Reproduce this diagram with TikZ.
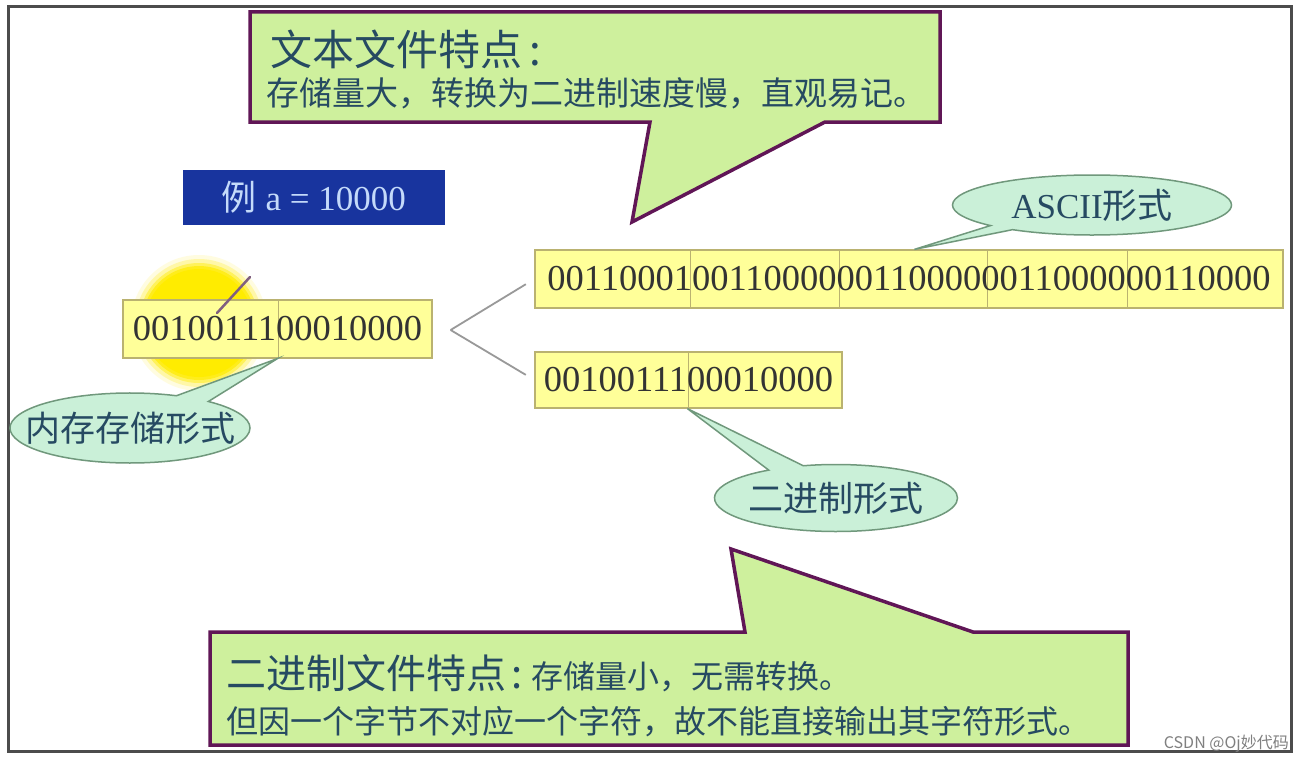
\documentclass[tikz,border=0pt]{standalone}
\usepackage{fontspec}
\setmainfont{Liberation Serif}
\newfontfamily\cjk{Noto Sans CJK SC}
\usetikzlibrary{calc,shapes.callouts}
\definecolor{note_green}{RGB}{206,240,157}
\definecolor{note_border}{RGB}{96,22,86}
\definecolor{tag_mint}{RGB}{202,240,216}
\definecolor{tag_border}{RGB}{112,152,124}
\definecolor{byte_yellow}{RGB}{255,255,153}
\definecolor{byte_border}{RGB}{186,178,112}
\definecolor{glow_yellow}{RGB}{255,236,0}
\definecolor{ink_teal}{RGB}{38,74,98}
\definecolor{ex_blue}{RGB}{24,52,158}
\definecolor{ex_text}{RGB}{196,218,250}
\newcommand{\fsz}[1]{\fontsize{#1}{#1}\selectfont}
\newcommand{\tagtext}[1]{\makebox[0pt]{#1}}% ellipse size from minimum width/height only

\begin{document}
\begin{tikzpicture}[x=1pt, y=-1pt,
    note/.style={draw=note_border, fill=note_green, line width=3.5pt, line join=miter},
    notetext/.style={anchor=base west, inner sep=0pt, text=ink_teal, font=\cjk\fsz{#1}},
    bytecut/.style={byte_border, line width=1pt},
    bytebox/.style={draw=byte_border, fill=byte_yellow, line width=1.2pt, inner sep=0pt,
      minimum height=58pt, font=\fsz{36.5}, text=black!80,
      path picture={\foreach \dx in {#1}
        \draw[bytecut] ([xshift=\dx]path picture bounding box.south west)
          -- ([xshift=\dx]path picture bounding box.north west);}},
    tag/.style={ellipse callout, draw=tag_border, fill=tag_mint, line width=1.5pt,
      inner sep=0pt, callout pointer arc=18, font=\cjk\fsz{35}, text=ink_teal},
    forkline/.style={gray!80, line width=1.8pt}]
  \fill[white] (0,0) rectangle (1306,760);
  \useasboundingbox (0,0) rectangle (1306,760);
  \draw[black!70, line width=3pt] (8,7) rectangle (1291,751);

  % highlight behind the memory word
  \foreach \r/\o in {68/0.12, 64/0.25, 60/0.45, 57/0.7, 54/1}
    \fill[glow_yellow, opacity=\o] (199,323) circle (\r);

  \node[fill=ex_blue, minimum width=262pt, minimum height=55pt, inner sep=0pt,
        text=ex_text, font=\fsz{35}] (example) at (314,197.5) {{\cjk 例} a = 10000};

  \node[bytebox={155}, minimum width=309pt] (mem) at (277.5,329) {0010011100010000};
  \node[bytebox={155,304,452,592}, minimum width=748pt] (ascii) at (909,279)
    {0011000100110000001100000011000000110000};
  \node[bytebox={153}, minimum width=307pt, minimum height=56pt] (bin) at (688.5,380)
    {0010011100010000};
  \draw[gray!75!violet, line width=2.5pt, line cap=round] (217,313) -- (250,277);

  \coordinate (fork) at ($(mem.east)+(18,1)$);
  \draw[forkline, shorten >=10pt] (fork) -- (ascii.west);
  \draw[forkline, shorten >=10pt] (fork) -- (bin.west);

  \coordinate (memtip) at ($(mem.south west)+(155,0)$);
  \coordinate (asciitip) at ($(ascii.north west)+(380,0)$);
  \coordinate (bintip) at ($(bin.south west)+(153,0)$);
  \node[tag, minimum width=240pt, minimum height=70pt, callout absolute pointer=(memtip)]
    (memtag) at (130,428) {\tagtext{内存存储形式}};
  \node[tag, minimum width=279pt, minimum height=60pt, callout pointer arc=12,
        callout absolute pointer=(asciitip)]
    (asciitag) at (1092,205) {\tagtext{{\rmfamily ASCII}形式}};
  \node[tag, minimum width=243pt, minimum height=67pt, callout absolute pointer=(bintip)]
    (bintag) at (836,498) {\tagtext{二进制形式}};

  % text file note
  \filldraw[note] (250,12) -- (940,12) -- (940,122) -- (825,122) -- (632,222)
    -- (650,122) -- (250,122) -- cycle;
  \node[notetext=42] (texthead) at (270,66) {文本文件特点\hspace{7pt}:};
  \node[notetext=33] (textbody) at (266,105) {存储量大，转换为二进制速度慢，直观易记。};

  % binary file note
  \filldraw[note] (210,632) -- (745,632) -- (731,549) -- (973,632) -- (1128,632)
    -- (1128,745) -- (210,745) -- cycle;
  \node[notetext=32] (binhead) at (226,688)
    {{\fsz{40}二进制文件特点\hspace{5pt}:}\hspace{9pt}存储量小，无需转换。};
  \node[notetext=32] (binbody) at (226,733) {但因一个字节不对应一个字符，故不能直接输出其字符形式。};

  \node[anchor=base east, inner sep=0pt, text=gray, font=\cjk\fsz{16}] (mark) at (1289,748)
    {CSDN @Oj妙代码};
\end{tikzpicture}
\end{document}
